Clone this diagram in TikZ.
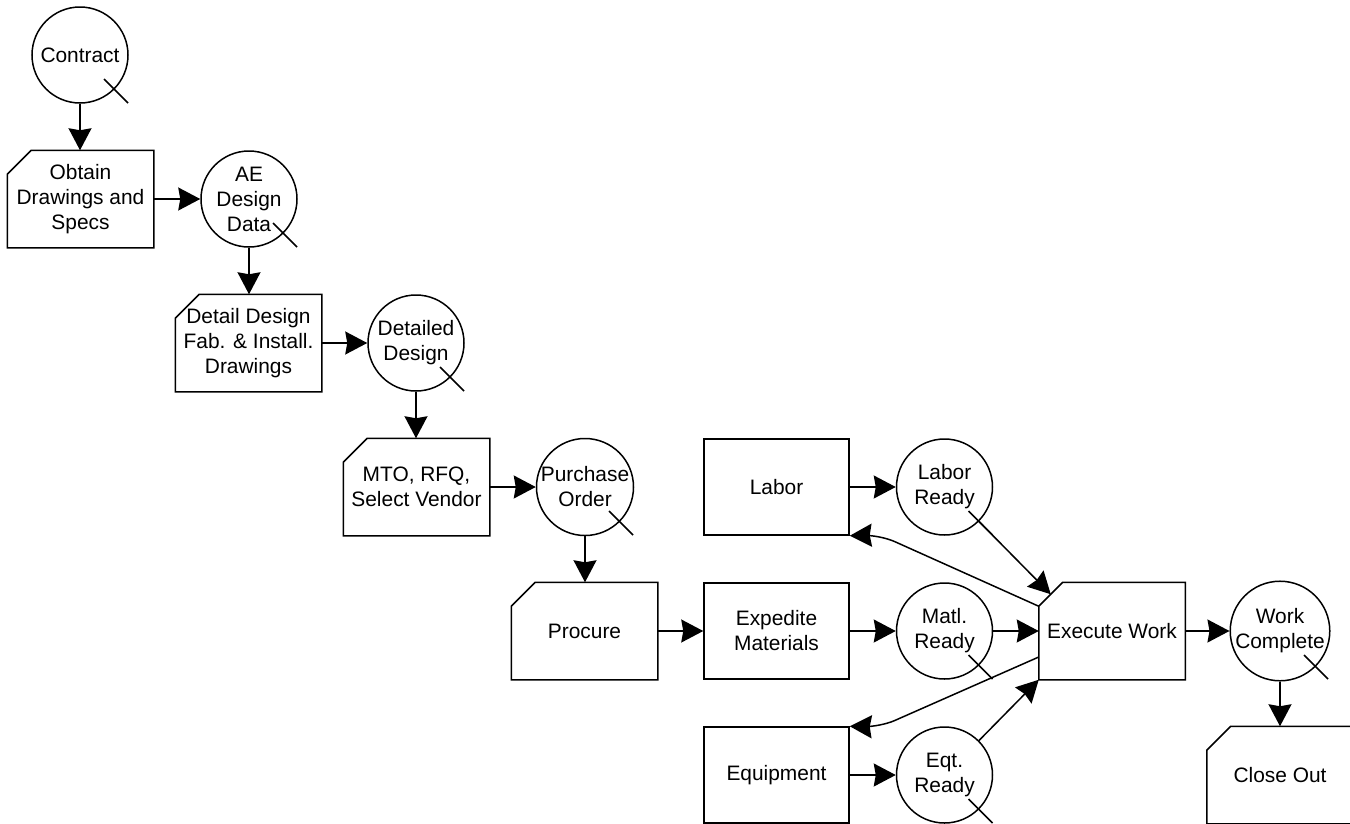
\documentclass[tikz,border=0pt]{standalone}
\usepackage{fontspec}
\setmainfont{Liberation Sans}
\usetikzlibrary{arrows.meta}
\begin{document}
\begin{tikzpicture}[x=1pt,y=-1pt,line width=1.5pt,
  every node/.style={font=\fontsize{20.9}{25}\selectfont, align=center, inner sep=0pt},
  proc/.style={rectangle, minimum width=145pt, minimum height=96pt},
  plainbox/.style={proc, draw},
  state/.style={circle, draw, minimum size=96pt},
  conn/.style={-{Stealth[length=22pt,width=23pt,inset=2pt]}},
  rounded/.style={rounded corners=16pt}]
\useasboundingbox (0,0) rectangle (1350,823);

% circles (events)
\node[state] (contract) at (80,55) {Contract};
\node[state] (ae) at (249,199) {AE\\Design\\Data};
\node[state] (detailed) at (416,343) {Detailed\\Design};
\node[state] (po) at (585,487) {Purchase\\Order};
\node[state] (lr) at (944.5,487) {Labor\\Ready};
\node[state] (mr) at (944.5,631) {Matl.\\Ready};
\node[state] (eqr) at (944.5,775) {Eqt.\\Ready};
\node[state] (wc) at (1280,631) {Work\\Complete};

% cut-corner activity boxes
\node[proc] (obtain) at (80.5,199) {Obtain\\Drawings and\\Specs};
\node[proc] (detail) at (248.5,343) {Detail Design\\Fab. \& Install.\\Drawings};
\node[proc] (mto) at (416.5,487) {MTO, RFQ,\\Select Vendor};
\node[proc] (procure) at (584.5,631) {Procure};
\node[proc] (exec) at (1112,631) {Execute Work};
\node[proc] (close) at (1280,775) {Close Out};
\foreach \n in {obtain,detail,mto,procure,exec,close}
  \draw (\n.north east) -- (\n.south east) -- (\n.south west)
        -- ([yshift=-24pt]\n.north west) -- ([xshift=24pt]\n.north west) -- cycle;

% plain boxes
\node[plainbox] (labor) at (776.5,487) {Labor};
\node[plainbox] (expedite) at (776.5,631) {Expedite\\Materials};
\node[plainbox] (equip) at (776.5,775) {Equipment};

% ticks on circles
\foreach \n in {contract,ae,detailed,po,lr,mr,eqr,wc}
  \draw ([xshift=24pt,yshift=-24pt]\n.center) -- ([xshift=48pt,yshift=-48pt]\n.center);

% helper coordinates
\coordinate (chamfer) at ([xshift=12pt,yshift=-12pt]exec.north west);
\coordinate (labbend) at (880,535);
\coordinate (eqbend) at (880,727);

% connectors
\draw[conn] (contract.south) -- (contract.south |- obtain.north);
\draw[conn] (obtain.east) -- (ae.west);
\draw[conn] (ae.south) -- (ae.south |- detail.north);
\draw[conn] (detail.east) -- (detailed.west);
\draw[conn] (detailed.south) -- (detailed.south |- mto.north);
\draw[conn] (mto.east) -- (po.west);
\draw[conn] (po.south) -- (po.south |- procure.north);
\draw[conn] (procure.east) -- (expedite.west);
\draw[conn] (expedite.east) -- (mr.west);
\draw[conn] (labor.east) -- (lr.west);
\draw[conn] (equip.east) -- (eqr.west);
\draw[conn] (mr.east) -- (exec.west);
\draw[conn] (lr.south east) -- (chamfer);
\draw[conn] (eqr.north east) -- (exec.south west);
\draw[conn] (exec.east) -- (wc.west);
\draw[conn] (wc.south) -- (wc.south |- close.north);
\draw[conn,rounded] ([yshift=-24pt]exec.north west) -- (labbend) -- (labor.south east);
\draw[conn,rounded] ([yshift=-26pt]exec.west) -- (eqbend) -- (equip.north east);
\end{tikzpicture}
\end{document}
